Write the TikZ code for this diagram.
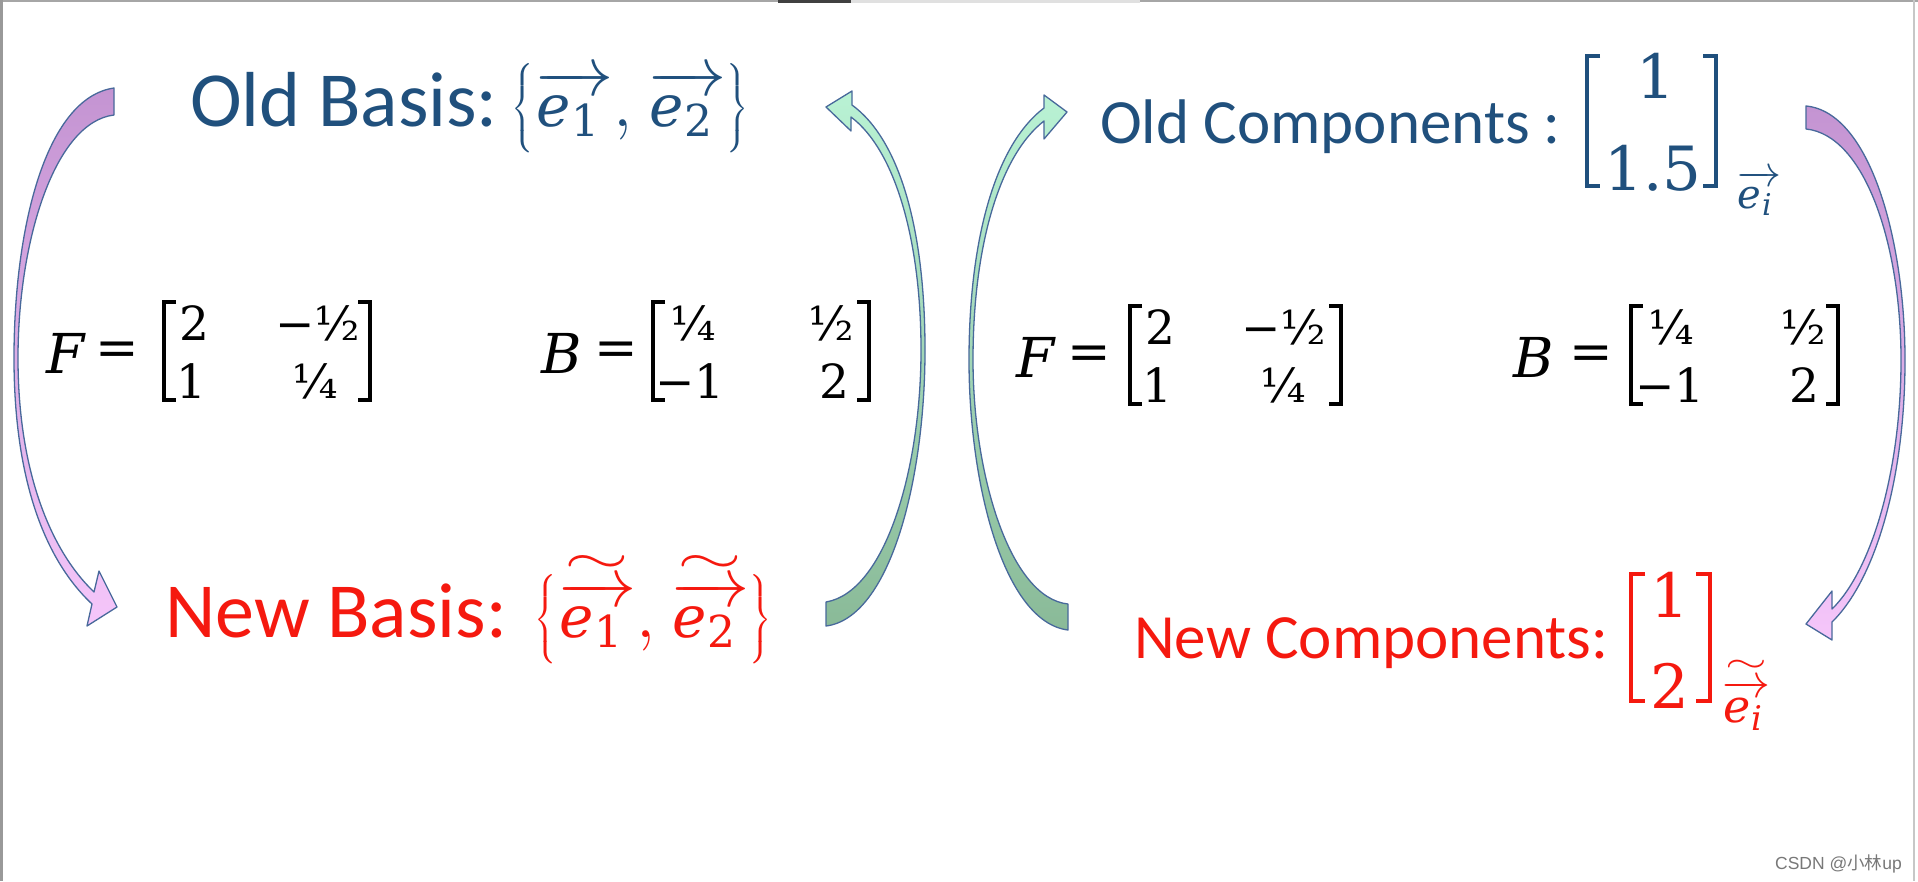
\RequirePackage{fix-cm}
\documentclass[tikz,border=0pt]{standalone}
\usepackage{amsmath}
\usepackage{fontspec}
\newfontfamily\calibri{Carlito}
\newfontfamily\djs{DejaVu Serif}
\newfontfamily\lsans{Liberation Sans}
\newfontfamily\cjk{Noto Sans CJK SC}
\newcommand\setfs[1]{\fontsize{#1}{#1}\selectfont}
\newcommand\evec[1]{\overrightarrow{\hbox{\kern2pt\setfs{58}\djs\itshape e\kern1pt\lower10pt\hbox{\setfs{44}\upshape #1}\kern14pt}}}
\newcommand\tld[2]{\overset{\raisebox{2pt}{\scalebox{#1}[1]{$\scriptstyle\sim$}}}{#2}}
\definecolor{oldblue}{RGB}{32,80,125}
\definecolor{newred}{RGB}{245,25,15}
\definecolor{arrline}{RGB}{72,105,155}
\definecolor{purtop}{RGB}{196,148,210}
\definecolor{purbot}{RGB}{245,198,250}
\definecolor{grntop}{RGB}{185,242,212}
\definecolor{grnbot}{RGB}{138,186,152}
\definecolor{wmgray}{RGB}{120,120,120}
\begin{document}
\begin{tikzpicture}[x=1pt,y=-1pt,
  lbl/.style={inner sep=0pt, anchor=base west},
  ent/.style={inner sep=0pt, anchor=base, font={\setfs{47}\djs}},
  cent/.style={inner sep=0pt, anchor=base, font={\setfs{61}\djs}},
  letr/.style={inner sep=0pt, anchor=base west, font={\setfs{55}\djs\itshape}},
  eqs/.style={inner sep=0pt, anchor=center, font={\setfs{52}\djs}},
  brk/.style={line width=4pt, line cap=butt, line join=miter},
  cbrk/.style={line width=4.8pt, line cap=butt, line join=miter},
  arr/.style={draw=arrline, line width=1.3pt, line join=round},
  purp/.style={arr, top color=purtop, bottom color=purbot},
  grn/.style={arr, top color=grntop, bottom color=grnbot}]
\useasboundingbox (0,0) rectangle (1918,881);
\fill[white] (0,0) rectangle (1918,881);
% frame of the screenshot
\fill[black!35] (0,0) rectangle (1918,2);
\fill[black!75] (778,0) rectangle (851,3);
\fill[black!12] (851,0) rectangle (1140,3);
\fill[black!40] (0,0) rectangle (3,881);
\fill[black!22] (1913,0) rectangle (1915,881);

% ---------- basis labels ----------
\node[lbl, text=oldblue] (oldb) at (190,126)
  {\setfs{78}\calibri Old Basis:\kern14pt\setfs{70}$\bigl\{\evec{1},\kern3pt\evec{2}\bigr\}$};
\node[lbl, text=newred] (newb) at (165,637)
  {\setfs{78}\calibri New Basis:\kern28pt\setfs{70}$\bigl\{\tld{1.7}{\evec{1}},\kern3pt\tld{1.7}{\evec{2}}\bigr\}$};

% ---------- old components ----------
\node[lbl, text=oldblue] (oldc) at (1100,143) {\setfs{63}\calibri Old Components :};
\node[cent, text=oldblue] (oc1) at (1656,98) {1};
\node[cent, text=oldblue] (oc2) at (1653,190) {1.5};
\draw[cbrk, oldblue] (1600,56) -- (1587,56) -- (1587,186) -- (1600,186);
\draw[cbrk, oldblue] (1703,56) -- (1716,56) -- (1716,186) -- (1703,186);
\node[lbl, text=oldblue] (ocs) at (1737,208)
  {\setfs{44}$\overrightarrow{\hbox{\setfs{40}\djs\itshape e\kern0.5pt\lower7pt\hbox{\setfs{30}i}\kern9pt}}$};
% ---------- new components ----------
\node[lbl, text=newred] (newc) at (1134,658) {\setfs{63}\calibri New Components:};
\node[cent, text=newred] (nc1) at (1670,617) {1};
\node[cent, text=newred] (nc2) at (1670,708) {2};
\draw[cbrk, newred] (1645,574) -- (1631,574) -- (1631,701) -- (1645,701);
\draw[cbrk, newred] (1696,574) -- (1710,574) -- (1710,701) -- (1696,701);
\node[lbl, text=newred] (ncs) at (1722,722)
  {\setfs{48}$\tld{1.6}{\overrightarrow{\hbox{\setfs{46}\djs\itshape e\kern0.5pt\lower8pt\hbox{\setfs{34}i}\kern6pt}}}$};

% ---------- left F ----------
\node[letr] (lF) at (46,373) {F};
\node[eqs] (lFe) at (117,354) {=};
\node[ent] (lF11) at (194,340) {2};
\node[ent] (lF12) at (318,340) {−½};
\node[ent] (lF21) at (191,398) {1};
\node[ent] (lF22) at (315,398) {¼};
\draw[brk] (176,302) -- (164,302) -- (164,400) -- (176,400);
\draw[brk] (358,302) -- (370,302) -- (370,400) -- (358,400);
% ---------- left B ----------
\node[letr] (lB) at (541,373) {B};
\node[eqs] (lBe) at (616,354) {=};
\node[ent] (lB11) at (693,340) {¼};
\node[ent] (lB12) at (831,340) {½};
\node[ent] (lB21) at (690,398) {−1};
\node[ent] (lB22) at (834,398) {2};
\draw[brk] (665,302) -- (653,302) -- (653,400) -- (665,400);
\draw[brk] (857,302) -- (869,302) -- (869,400) -- (857,400);
% ---------- right F ----------
\node[letr] (rF) at (1016,377) {F};
\node[eqs] (rFe) at (1089,358) {=};
\node[ent] (rF11) at (1160,344) {2};
\node[ent] (rF12) at (1284,344) {−½};
\node[ent] (rF21) at (1157,402) {1};
\node[ent] (rF22) at (1283,402) {¼};
\draw[brk] (1142,306) -- (1130,306) -- (1130,404) -- (1142,404);
\draw[brk] (1329,306) -- (1341,306) -- (1341,404) -- (1329,404);
% ---------- right B ----------
\node[letr] (rB) at (1513,377) {B};
\node[eqs] (rBe) at (1591,358) {=};
\node[ent] (rB11) at (1671,344) {¼};
\node[ent] (rB12) at (1803,344) {½};
\node[ent] (rB21) at (1670,402) {−1};
\node[ent] (rB22) at (1804,402) {2};
\draw[brk] (1643,306) -- (1631,306) -- (1631,404) -- (1643,404);
\draw[brk] (1826,306) -- (1838,306) -- (1838,404) -- (1826,404);

% ---------- curved arrows ----------
% left purple: old basis -> new basis
\path[purp] (114,88) .. controls (45,98) and (14,230) .. (14,358)
  .. controls (14,480) and (45,560) .. (92,604) -- (87,626) -- (117,607) -- (99,571) -- (94,592)
  .. controls (50,550) and (18,470) .. (18,358)
  .. controls (18,240) and (55,122) .. (114,115) -- cycle;
% left green: new basis -> old basis
\path[grn] (826,626) .. controls (890,618) and (925,480) .. (925,350)
  .. controls (925,230) and (900,140) .. (852,105) -- (852,91) -- (826,107) -- (851,131) -- (851,117)
  .. controls (895,150) and (921,240) .. (921,350)
  .. controls (921,470) and (885,592) .. (826,602) -- cycle;
% right green: new components -> old components
\path[grn] (1068,630) .. controls (1004,622) and (969,485) .. (969,360)
  .. controls (969,240) and (995,145) .. (1044,108) -- (1044,95) -- (1067,112) -- (1044,139) -- (1044,121)
  .. controls (1000,155) and (973,245) .. (973,360)
  .. controls (973,475) and (1010,598) .. (1068,604) -- cycle;
% right purple: old components -> new components
\path[purp] (1806,106) .. controls (1870,112) and (1905,240) .. (1905,360)
  .. controls (1905,480) and (1875,580) .. (1832,622) -- (1832,640) -- (1806,624) -- (1832,591) -- (1832,609)
  .. controls (1872,570) and (1901,470) .. (1901,360)
  .. controls (1901,245) and (1865,135) .. (1806,129) -- cycle;

% watermark
\node[inner sep=0pt, anchor=base east, text=wmgray] (wm) at (1902,869)
  {\setfs{17.5}\lsans CSDN @\cjk 小林\lsans up};
\end{tikzpicture}
\end{document}
